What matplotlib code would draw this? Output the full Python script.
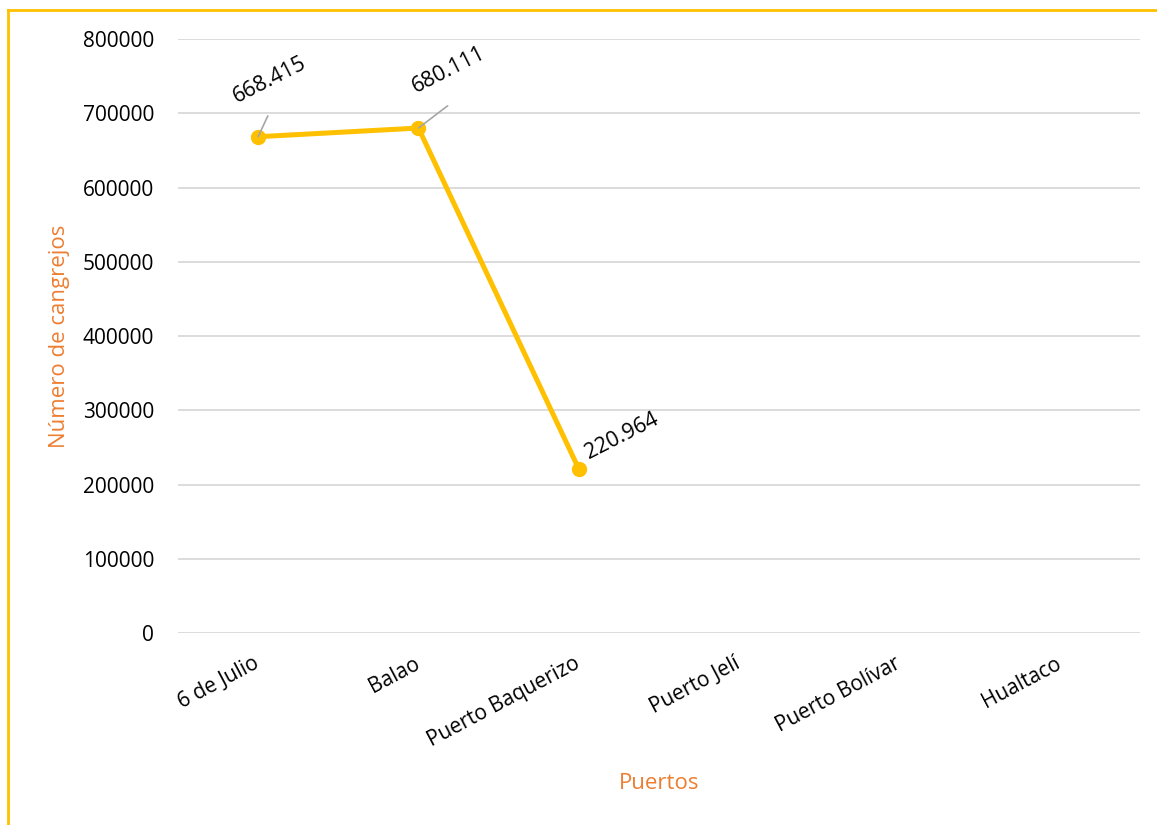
import matplotlib.pyplot as plt
from matplotlib.lines import Line2D
from matplotlib.ticker import MultipleLocator

plt.rcParams["font.family"] = ["Open Sans", "DejaVu Sans"]

puertos = ["6 de Julio", "Balao", "Puerto Baquerizo", "Puerto Jelí", "Puerto Bolívar", "Hualtaco"]
cangrejos = [668415, 680111, 220964]
etiquetas = ["668.415", "680.111", "220.964"]
# label offsets (points) and whether a leader line is drawn
label_offsets = [(8, 41), (22, 42), (31, 24)]
leader_ends = [(7, 15), (21, 16), None]

GOLD = "#FFC000"
ORANGE = "#ED7D31"

fig = plt.figure(figsize=(11.57, 8.25), dpi=100)
ax = fig.add_axes([0.1538, 0.2327, 0.8315, 0.72])

x = list(range(len(cangrejos)))
ax.plot(x, cangrejos, color=GOLD, lw=3.6, marker="o", ms=10, solid_capstyle="round", zorder=3)

for xi, yi, txt, off, lead in zip(x, cangrejos, etiquetas, label_offsets, leader_ends):
    if lead is not None:
        ax.annotate("", xy=(xi, yi), xytext=lead, textcoords="offset points",
                    arrowprops=dict(arrowstyle="-", color="#A6A6A6", lw=1.2, shrinkA=0, shrinkB=0))
    ax.annotate(txt, xy=(xi, yi), xytext=off, textcoords="offset points",
                ha="center", va="center", rotation=27, fontsize=15.5, color="black")

ax.set_xlim(-0.5, len(puertos) - 0.5)
ax.set_ylim(0, 800000)
ax.yaxis.set_major_locator(MultipleLocator(100000))
ax.set_xticks(range(len(puertos)))
ax.set_xticklabels(puertos, rotation=28, ha="right", va="center", rotation_mode="anchor")
ax.tick_params(axis="x", length=0, pad=21, labelsize=15)
ax.tick_params(axis="y", length=0, pad=17, labelsize=15)
ax.grid(axis="y", color="#D9D9D9", lw=1.3)
ax.set_axisbelow(True)
for s in ax.spines.values():
    s.set_visible(False)

ax.set_ylabel("Número de cangrejos", color=ORANGE, fontsize=16)
ax.yaxis.set_label_coords(-0.112, 0.5)
ax.set_xlabel("Puertos", color=ORANGE, fontsize=16)
ax.xaxis.set_label_coords(0.5, -0.2357)

# chart frame (only top and left edges fall inside the image)
fig.add_artist(Line2D([8 / 1157, 8 / 1157], [0, 1 - 10 / 825], color=GOLD, lw=2, transform=fig.transFigure))
fig.add_artist(Line2D([8 / 1157, 1], [1 - 10 / 825, 1 - 10 / 825], color=GOLD, lw=2, transform=fig.transFigure))

fig.savefig("out.png", dpi=100)
